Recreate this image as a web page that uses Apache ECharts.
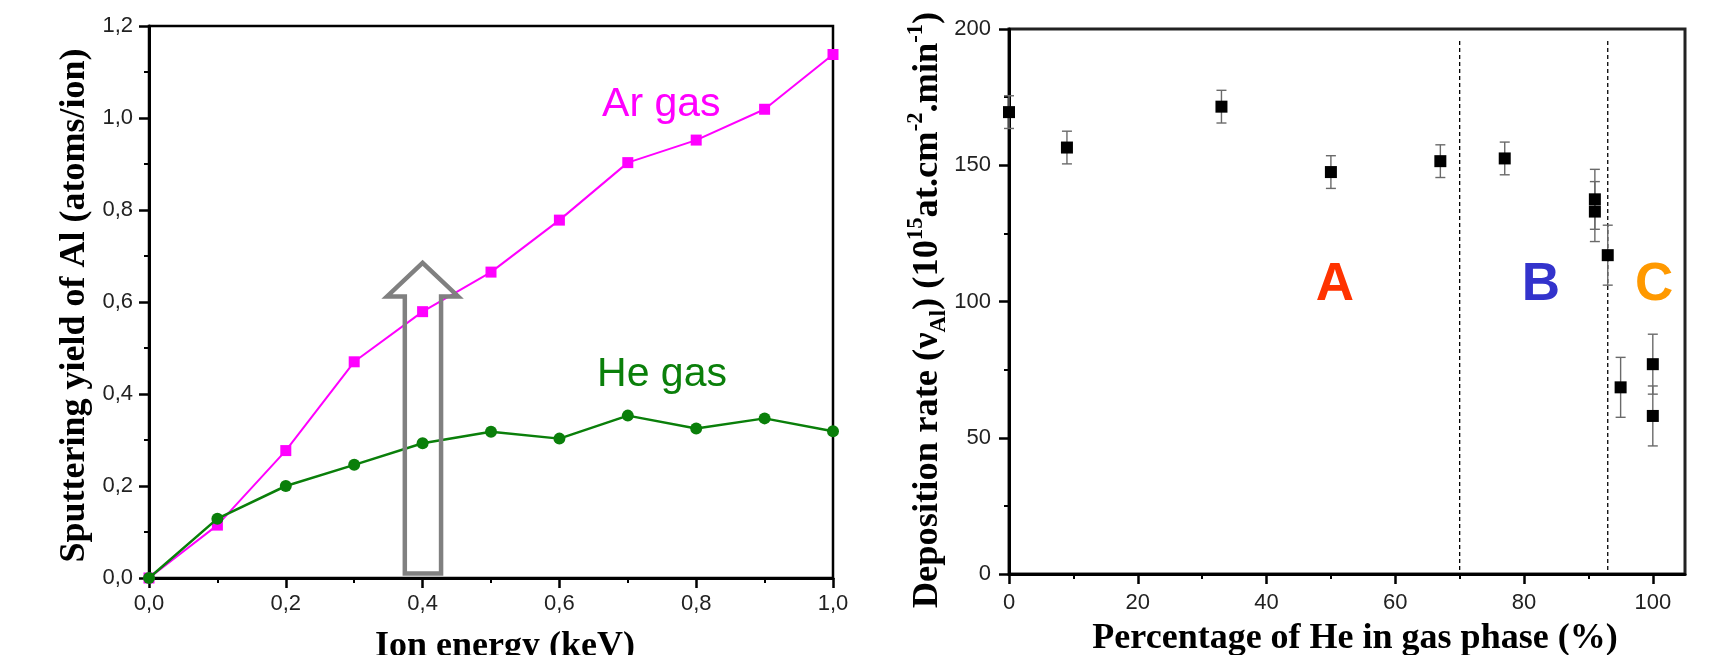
<!DOCTYPE html>
<html>
<head>
<meta charset="utf-8">
<script src="https://cdn.jsdelivr.net/npm/echarts@6/dist/echarts.min.js"></script>
<style>
html,body{margin:0;padding:0;background:#ffffff;}
#chart{width:1712px;height:655px;}
</style>
</head>
<body>
<div id="chart"></div>
<script>
// ---------- Left panel data: sputtering yield of Al ----------
const ionEnergy = [0, 0.1, 0.2, 0.3, 0.4, 0.5, 0.6, 0.7, 0.8, 0.9, 1.0];
const arYield   = [0, 0.115, 0.277, 0.470, 0.579, 0.665, 0.778, 0.903, 0.952, 1.019, 1.138];
const heYield   = [0, 0.129, 0.200, 0.246, 0.293, 0.318, 0.303, 0.353, 0.325, 0.347, 0.319];
const seriesNames = ['Ar gas', 'He gas'];
const seriesLabelX = [0.749, 0.750];
const seriesLabelY = [1.03, 0.443];
// grey hollow arrow outline (data units of left panel)
const arrowX = [0.374, 0.374, 0.348, 0.400, 0.452, 0.427, 0.427, 0.374];
const arrowY = [0.010, 0.612, 0.612, 0.685, 0.612, 0.612, 0.010, 0.010];

// ---------- Right panel data: deposition rate ----------
const hePercent = [0, 9, 33, 50, 67, 77, 91, 91, 93, 95, 100, 100];
const depRate   = [169.5, 156.5, 171.5, 147.5, 151.5, 152.5, 137.5, 133, 117, 68.5, 77, 58];
const depErr    = [6, 6, 6, 6, 6, 6, 11, 11, 11, 11, 11, 11];
const regionBounds = [70, 93];
const boundY = [1.5, 196.5];
const regionNames = ['A', 'B', 'C'];
const regionX = [50.6, 82.6, 100.2];
const regionY = [106, 106, 106];
const regionColors = ['#ff3300', '#3333cc', '#ff9900'];
const xMajorTicks = [0, 20, 40, 60, 80, 100];
const xMinorTicks = [10, 30, 50, 70, 90];

const SANS = "'Liberation Sans', Arial, sans-serif";
const SERIF = "'Liberation Serif', 'Times New Roman', serif";
const comma = v => Number(v).toFixed(1).replace('.', ',');

const axisLineStyle = {show: true, lineStyle: {color: '#000', width: 3}};
const tickLabel = {color: '#222', fontFamily: SANS, fontSize: 22};

const chart = echarts.init(document.getElementById('chart'), null, {renderer: 'canvas'});

const option = {
  backgroundColor: '#ffffff',
  animation: false,
  grid: [
    {left: 149, top: 26, width: 684, height: 552, show: true, borderColor: '#000', borderWidth: 2.5, backgroundColor: 'transparent', outerBoundsMode: 'none'},
    {left: 1009, top: 29, width: 676, height: 545, show: true, borderColor: '#222', borderWidth: 3, backgroundColor: 'transparent', outerBoundsMode: 'none'}
  ],
  xAxis: [
    {
      gridIndex: 0, type: 'value', min: 0, max: 1.0, interval: 0.2, position: 'bottom',
      axisLine: axisLineStyle,
      axisTick: {show: true, inside: false, length: 10, lineStyle: {color: '#000', width: 2.5}},
      minorTick: {show: true, splitNumber: 2, length: 5, lineStyle: {color: '#000', width: 2}},
      splitLine: {show: false},
      axisLabel: Object.assign({margin: 15, formatter: comma}, tickLabel),
      name: 'Ion energy (keV)', nameLocation: 'middle', nameGap: 51,
      nameTextStyle: {fontFamily: SERIF, fontWeight: 'bold', fontSize: 36, color: '#000', padding: [0, 0, 0, 28]}
    },
    {
      gridIndex: 1, type: 'value', min: 0, max: 105, position: 'bottom',
      axisLine: axisLineStyle,
      axisTick: {show: true, inside: false, length: 10, customValues: xMajorTicks, lineStyle: {color: '#000', width: 2.5}},
      splitLine: {show: false},
      axisLabel: Object.assign({margin: 18, customValues: xMajorTicks}, tickLabel),
      name: 'Percentage of He in gas phase (%)', nameLocation: 'middle', nameGap: 47,
      nameTextStyle: {fontFamily: SERIF, fontWeight: 'bold', fontSize: 36, color: '#000', padding: [0, 0, 0, 16]}
    },
    {
      gridIndex: 1, type: 'value', min: 0, max: 105, position: 'bottom',
      axisLine: {show: false},
      axisTick: {show: true, inside: false, length: 5, customValues: xMinorTicks, lineStyle: {color: '#000', width: 2}},
      splitLine: {show: false},
      axisLabel: {show: false}
    }
  ],
  yAxis: [
    {
      gridIndex: 0, type: 'value', min: 0, max: 1.2, interval: 0.2,
      axisLine: axisLineStyle,
      axisTick: {show: true, inside: false, length: 10, lineStyle: {color: '#000', width: 2.5}},
      minorTick: {show: true, splitNumber: 2, length: 5, lineStyle: {color: '#000', width: 2}},
      splitLine: {show: false},
      axisLabel: Object.assign({margin: 16, formatter: comma}, tickLabel),
      name: 'Sputtering yield of Al (atoms/ion)', nameLocation: 'middle', nameRotate: 90, nameGap: 56,
      nameTextStyle: {fontFamily: SERIF, fontWeight: 'bold', fontSize: 36, color: '#000', padding: [0, 7, 0, 0]}
    },
    {
      gridIndex: 1, type: 'value', min: 0, max: 200, interval: 50,
      axisLine: axisLineStyle,
      axisTick: {show: true, inside: false, length: 10, lineStyle: {color: '#000', width: 2.5}},
      minorTick: {show: true, splitNumber: 2, length: 5, lineStyle: {color: '#000', width: 2}},
      splitLine: {show: false},
      axisLabel: Object.assign({margin: 18}, tickLabel),
      name: '{t|Deposition rate (\u03bd}{sub|Al}{t|) (10}{sup|15}{t|at.cm}{sup|-2}{t|.min}{sup|-1}{t|)}',
      nameLocation: 'middle', nameRotate: 90, nameGap: 57,
      nameTextStyle: {
        fontFamily: SERIF, fontWeight: 'bold', fontSize: 36.5, color: '#000', padding: [0, 17, 0, 0],
        rich: {
          t: {fontFamily: SERIF, fontWeight: 'bold', fontSize: 36.5, color: '#000', lineHeight: 46},
          sub: {fontFamily: SERIF, fontWeight: 'bold', fontSize: 22.5, color: '#000', lineHeight: 22, verticalAlign: 'bottom'},
          sup: {fontFamily: SERIF, fontWeight: 'bold', fontSize: 22.5, color: '#000', lineHeight: 22, verticalAlign: 'top'}
        }
      }
    }
  ],
  series: [
    {
      type: 'line', name: 'Ar gas', xAxisIndex: 0, yAxisIndex: 0,
      data: ionEnergy.map((x, i) => [x, arYield[i]]),
      symbol: 'rect', symbolSize: 11,
      lineStyle: {color: '#ff00ff', width: 2},
      itemStyle: {color: '#ff00ff'}, z: 3
    },
    {
      type: 'line', name: 'He gas', xAxisIndex: 0, yAxisIndex: 0,
      data: ionEnergy.map((x, i) => [x, heYield[i]]),
      symbol: 'circle', symbolSize: 12,
      lineStyle: {color: '#0a7f0a', width: 2.5},
      itemStyle: {color: '#0a7f0a'}, z: 4
    },
    {
      type: 'line', name: 'arrow', xAxisIndex: 0, yAxisIndex: 0,
      data: arrowX.map((x, i) => [x, arrowY[i]]),
      showSymbol: false, symbol: 'none', silent: true,
      lineStyle: {color: '#808080', width: 4.5, join: 'miter', cap: 'square'}, z: 6
    },
    {
      type: 'scatter', name: 'seriesLabels', xAxisIndex: 0, yAxisIndex: 0,
      data: seriesNames.map((n, i) => ({name: n, value: [seriesLabelX[i], seriesLabelY[i]],
        label: {color: i === 0 ? '#ff00ff' : '#0a7f0a'}})),
      symbolSize: 1, itemStyle: {color: 'rgba(0,0,0,0)', opacity: 1}, silent: true,
      label: {show: true, position: 'inside', formatter: p => p.name, fontFamily: SANS, fontSize: 41}, z: 7
    },
    {
      type: 'custom', name: 'errorBars', xAxisIndex: 1, yAxisIndex: 1,
      data: hePercent.map((x, i) => [x, depRate[i], depErr[i]]),
      renderItem: function (params, api) {
        const x = api.value(0), y = api.value(1), e = api.value(2);
        const top = api.coord([x, y + e]);
        const bot = api.coord([x, y - e]);
        const w = 5;
        const st = {stroke: '#6a6a6a', lineWidth: 1.4};
        return {type: 'group', children: [
          {type: 'line', shape: {x1: top[0], y1: top[1], x2: bot[0], y2: bot[1]}, style: st},
          {type: 'line', shape: {x1: top[0] - w, y1: top[1], x2: top[0] + w, y2: top[1]}, style: st},
          {type: 'line', shape: {x1: bot[0] - w, y1: bot[1], x2: bot[0] + w, y2: bot[1]}, style: st}
        ]};
      },
      clip: false, z: 2
    },
    {
      type: 'scatter', name: 'Deposition rate', xAxisIndex: 1, yAxisIndex: 1,
      data: hePercent.map((x, i) => [x, depRate[i]]),
      symbol: 'rect', symbolSize: 12, clip: false,
      itemStyle: {color: '#000', opacity: 1}, z: 3
    },
    ...regionBounds.map(b => ({
      type: 'line', name: 'bound', xAxisIndex: 1, yAxisIndex: 1,
      data: boundY.map(y => [b, y]),
      showSymbol: false, symbol: 'none', silent: true,
      lineStyle: {color: '#000', width: 1.3, type: [4, 3]}, z: 1
    })),
    {
      type: 'scatter', name: 'regionLabels', xAxisIndex: 1, yAxisIndex: 1,
      data: regionNames.map((n, i) => ({name: n, value: [regionX[i], regionY[i]],
        label: {color: regionColors[i]}})),
      symbolSize: 1, itemStyle: {color: 'rgba(0,0,0,0)', opacity: 1}, silent: true,
      label: {show: true, position: 'inside', formatter: p => p.name, fontFamily: SANS, fontWeight: 'bold', fontSize: 53}, z: 7
    }
  ]
};
chart.setOption(option);
</script>
</body>
</html>
